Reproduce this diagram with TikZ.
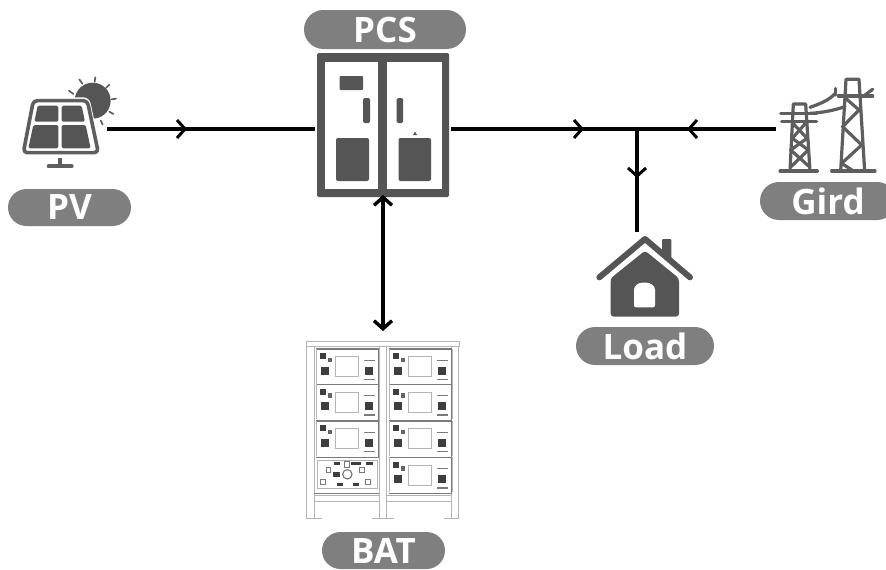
\documentclass[tikz,border=0pt]{standalone}
\usepackage{fontspec}
\setmainfont{Open Sans}
\usetikzlibrary{arrows.meta,decorations.markings,shapes.misc}
\definecolor{dk}{HTML}{555555}
\definecolor{ic}{HTML}{5E5E5E}
\definecolor{pillc}{HTML}{7F7F7F}
\definecolor{bl}{HTML}{B4B4B4}
\definecolor{bm}{HTML}{7A7A7A}
\definecolor{bd}{HTML}{3E3E3E}
\tikzset{
  pill/.style={rounded rectangle,fill=pillc,text=white,inner sep=0pt,
    font=\fontsize{35}{35}\selectfont\bfseries},
  ghost/.style={inner sep=0pt,outer sep=0pt},
  wire/.style={line width=3.4pt,black},
  chevron/.style={postaction={decorate},decoration={markings,
    mark=at position #1 with {\arrow[line width=3pt]{Straight Barb[length=8pt,width=18pt]}}}},
  bothtips/.style={line width=3.4pt,black,{Straight Barb[length=8pt,width=18pt]}-{Straight Barb[length=8pt,width=18pt]}},
  zoomed/.style={x=0.33333pt,y=-0.33333pt},
  tower/.style={draw=ic,line width=3.2pt,line cap=round,line join=round},
  sunray/.style={draw=ic,line width=1.7pt,line cap=round},
}
\newcommand{\batmod}[2]{%
  \begin{scope}[xshift=#1*0.33333pt,yshift=-#2*0.33333pt]
    \draw[bm,line width=1.5pt] (0,0) -- (190,0);
    \draw[bl,line width=.6pt] (0,0) -- (0,105) (190,0) -- (190,105);
    \fill[bd] (13,13) rectangle (30,31);
    \fill[bd!80] (35,26) rectangle (48,40);
    \fill[bd] (14,53) rectangle (38,78);
    \fill[bd] (147,53) rectangle (171,78);
    \draw[bl,line width=.7pt] (58,23) rectangle (128,83);
    \draw[bm,line width=1.6pt] (145,34) -- (177,34);
    \draw[bm,line width=1.6pt] (145,92) -- (177,92);
  \end{scope}}
\begin{document}
\begin{tikzpicture}[x=1pt,y=-1pt]
\path[use as bounding box] (0,0) rectangle (886,570);
\clip (0,0) rectangle (886,570);
% labels
\node[pill,minimum width=123pt,minimum height=37pt] (pvlabel) at (69.5,207.5) {PV};
\node[pill,minimum width=162pt,minimum height=39pt] (pcslabel) at (385,29.5) {PCS};
\node[pill,minimum width=123pt,minimum height=37pt] (batlabel) at (383.5,550.5) {BAT};
\node[pill,minimum width=138pt,minimum height=38pt] (loadlabel) at (645,346) {Load};
\node[pill,minimum width=136pt,minimum height=38pt] (gridlabel) at (828,201) {Gird};
% PCS cabinet
\node[ghost,fill=dk,rounded corners=1.5pt,minimum width=132pt,minimum height=144pt] (pcs) at (383,125) {};
\fill[white] (325,62) rectangle (378,189);
\fill[white] (387,62) rectangle (442,189);
\fill[dk,rounded corners=1pt] (339.5,76) rectangle (363,90);
\fill[dk,rounded corners=1.5pt] (363,98) rectangle (370,123);
\fill[dk,rounded corners=1.5pt] (396.5,98) rectangle (403,123);
\fill[dk,rounded corners=2pt] (336,138) rectangle (369,181);
\fill[dk,rounded corners=2pt] (398.5,138) rectangle (431,181);
\fill[dk] (413,135) -- (415,131.5) -- (417,135) -- cycle;
% PV icon
\node[ghost,minimum width=87pt,minimum height=90pt] (pv) at (63.5,129) {};
\begin{scope}[zoomed,xshift=0pt,yshift=-60pt]
  \fill[dk] (278,122) circle (54);
  \fill[white,rounded corners=6pt] (94,112) -- (268,112) -- (306,288) -- (60,288) -- cycle;
  \draw[ic,line width=3.6pt,line join=round,rounded corners=4pt] (100,122) -- (262,122) -- (295,278) -- (70,278) -- cycle;
  \fill[dk,rounded corners=1.5pt] (113,137) -- (175,137) -- (175,185) -- (103,185) -- cycle;
  \fill[dk,rounded corners=1.5pt] (185,137) -- (245,137) -- (255,185) -- (185,185) -- cycle;
  \fill[dk,rounded corners=1.5pt] (100,195) -- (175,195) -- (175,265) -- (85,265) -- cycle;
  \fill[dk,rounded corners=1.5pt] (185,195) -- (257,195) -- (272,265) -- (185,265) -- cycle;
  \draw[ic,line width=3.4pt] (180,295) -- (180,318);
  \draw[ic,line width=4pt,line cap=round] (146,319) -- (215,319);
  \draw[sunray] (207,92) -- (220,102);
  \draw[sunray] (238,58) -- (247,71);
  \draw[sunray] (286,52) -- (284,65);
  \draw[sunray] (328,74) -- (318,84);
  \draw[sunray] (348,116) -- (335,118);
  \draw[sunray] (340,162) -- (328,155);
  \draw[sunray] (308,194) -- (302,182);
\end{scope}
% grid towers
\node[ghost,minimum width=110pt,minimum height=94pt] (grid) at (831,129) {};
\begin{scope}[zoomed,xshift=560pt,yshift=-60pt]
  \draw[tower] (660,333) -- (772,333);
  \draw[tower] (815,333) -- (945,333);
  \draw[tower] (690,333) -- (700,132) -- (737,132) -- (750,333);
  \draw[tower] (662,160) -- (770,160);
  \draw[tower] (665,184) -- (770,184);
  \draw[tower] (697,188) -- (741,235) -- (692,270) -- (748,320);
  \draw[tower] (738,188) -- (697,235) -- (745,270) -- (693,320);
  \draw[tower] (842,333) -- (858,58) -- (897,58) -- (914,333);
  \draw[tower] (835,108) -- (938,108);
  \draw[tower] (857,115) -- (897,150) -- (848,200) -- (905,255) -- (845,310) -- (880,333);
  \draw[tower] (750,142) .. controls (785,130) and (810,118) .. (826,100);
  \draw[tower] (750,160) .. controls (790,158) and (825,150) .. (855,140);
  \draw[tower] (826,85) -- (826,105);
  \draw[tower] (915,105) -- (938,88);
\end{scope}
% house
\node[ghost,minimum width=96pt,minimum height=86pt] (house) at (645,275) {};
\begin{scope}[zoomed,xshift=560pt,yshift=-60pt]
  \fill[dk,rounded corners=1pt] (306,537) rectangle (334,600);
  \draw[white,line width=8pt,line cap=round,line join=round] (150,652) -- (255,560) -- (360,652);
  \draw[dk,line width=6pt,line cap=round,line join=round] (118,652) -- (255,537) -- (390,652);
  \fill[dk,rounded corners=3pt] (152,655) -- (255,572) -- (357,655) -- (357,770) -- (152,770) -- cycle;
  \fill[white,rounded corners=2pt] (222,742) -- (222,695) .. controls (222,678) and (235,668) .. (253,668) .. controls (272,668) and (285,678) .. (285,695) -- (285,742) -- cycle;
\end{scope}
% battery rack
\node[ghost,minimum width=155pt,minimum height=189pt] (bat) at (383,425.5) {};
\begin{scope}[zoomed,xshift=290pt,yshift=-330pt]
  \draw[bl,line width=1pt] (48,33) rectangle (508,50);
  \draw[bl,line width=1pt] (50,50) -- (50,565) (72,50) -- (72,565);
  \draw[bl,line width=1pt] (268,50) -- (268,565) (290,50) -- (290,565);
  \draw[bl,line width=1pt] (485,50) -- (485,565) (505,50) -- (505,565);
  \draw[bl,line width=1.4pt] (48,565) -- (95,565) (245,565) -- (312,565) (462,565) -- (508,565);
  \draw[bl,line width=1pt] (72,495) -- (268,495) (72,515) -- (268,515);
  \draw[bl,line width=1pt] (290,495) -- (485,495) (290,515) -- (485,515);
  \batmod{78}{57}
  \batmod{78}{163}
  \batmod{78}{273}
  \batmod{297}{57}
  \batmod{297}{163}
  \batmod{297}{273}
  \batmod{297}{382}
  \draw[bm,line width=1.5pt] (78,382) -- (268,382) (72,490) -- (268,490) (297,490) -- (487,490);
  \draw[bm,line width=1.2pt] (266,57) -- (266,382) (484,57) -- (484,490);
  \draw[bl,line width=.8pt] (82,392) rectangle (262,475);
  \fill[bd] (132,397) rectangle (150,405);
  \fill[bd] (184,397) rectangle (212,405);
  \fill[bd] (228,397) rectangle (250,405);
  \draw[bm,line width=.9pt] (108,413) rectangle (122,428);
  \draw[bm,line width=.9pt] (208,413) rectangle (222,428);
  \draw[bm,line width=.9pt] (92,448) rectangle (106,462);
  \draw[bm,line width=.9pt] (226,448) rectangle (240,462);
  \fill[bd] (130,425) rectangle (150,442);
  \draw[bm,line width=1.2pt] (172,433) circle (14);
  \fill[bd] (140,460) rectangle (158,468);
  \fill[bd] (188,460) rectangle (208,468);
  \draw[bm,line width=.9pt] (163,395) rectangle (177,412);
\end{scope}
% connectors
\coordinate (j) at (637,129);
\draw[wire,chevron=80pt] (pv.east |- j) -- ([xshift=-2pt]pcs.west |- j);
\draw[wire,chevron=133pt] ([xshift=2pt]pcs.east |- j) -- (j);
\draw[wire,chevron=89pt] (grid.west |- j) -- (j);
\draw[wire,chevron=49pt] (j) -- (j |- house.north);
\draw[bothtips] ([yshift=2pt]pcs.south) -- (bat.north);
\end{tikzpicture}
\end{document}
